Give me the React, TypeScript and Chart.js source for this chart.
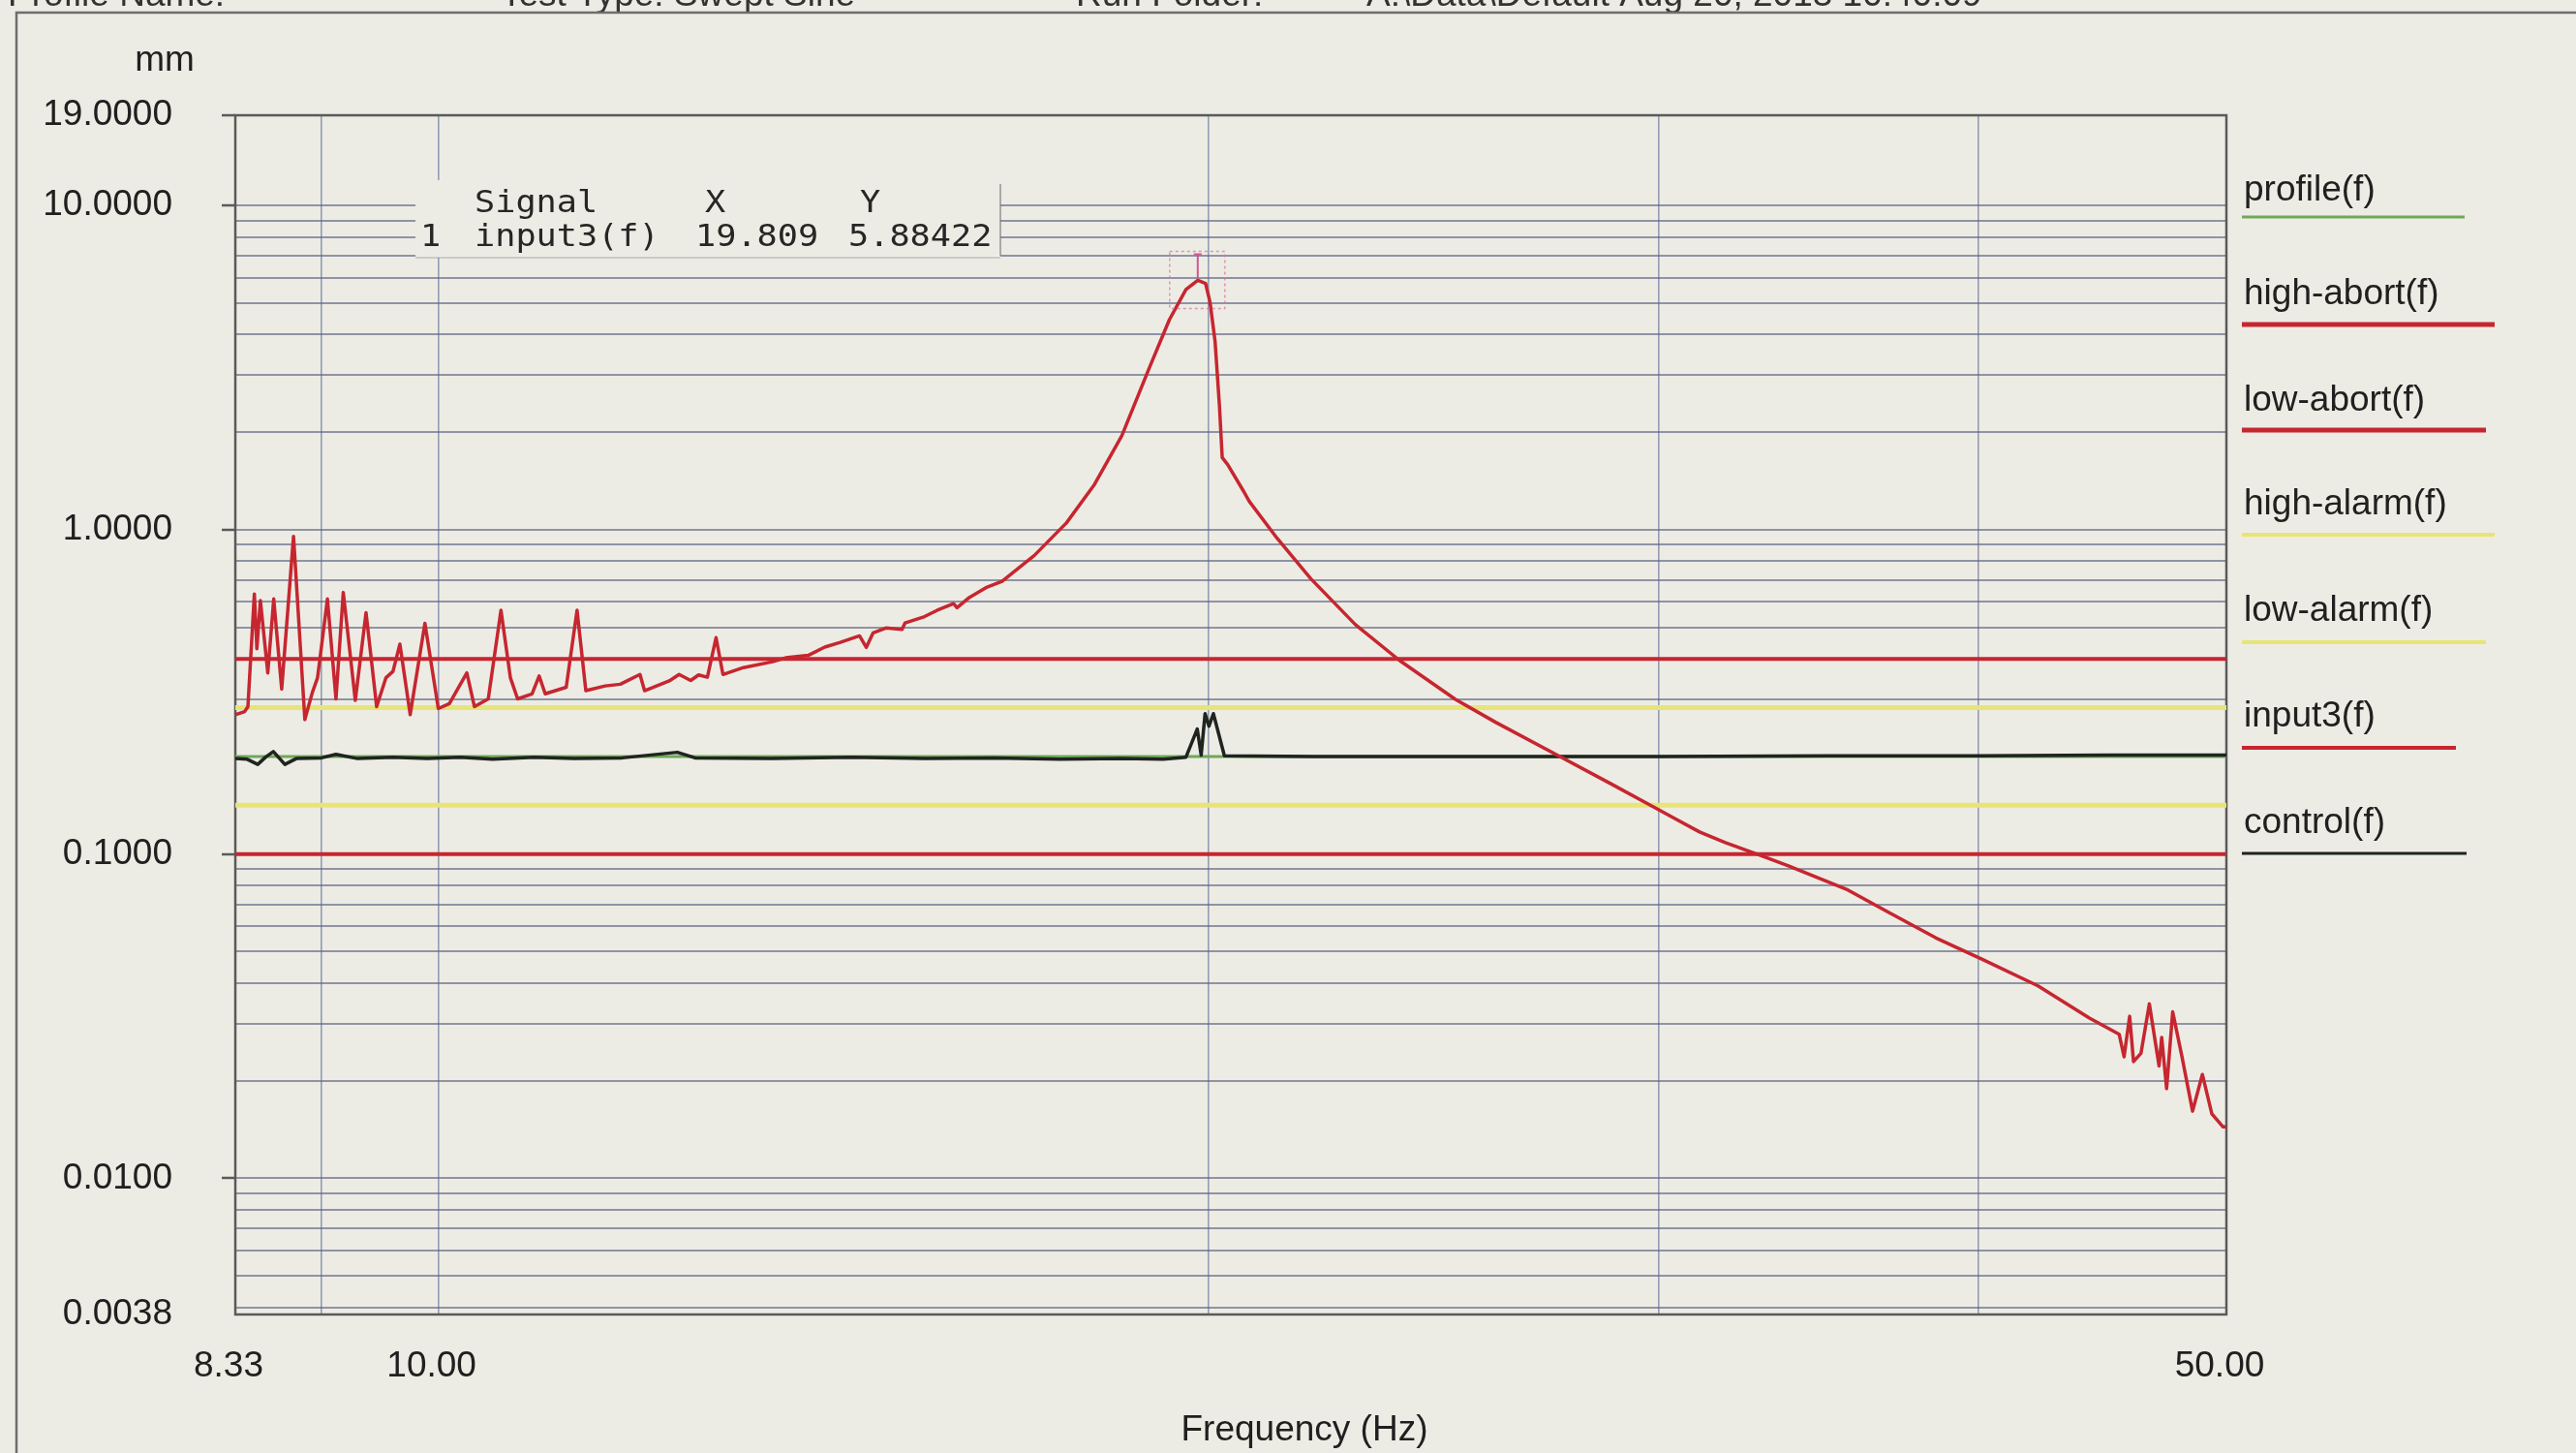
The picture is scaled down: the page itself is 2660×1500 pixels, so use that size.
import React, { useEffect, useRef } from "react";
import { Chart, registerables } from "chart.js";
Chart.register(...registerables);

const W = 2660;
const H = 1500;
const PAPER = "#edece4";
const INK = "#202020";
const FONT = "'Liberation Sans', Arial, sans-serif";

// ---------- data ----------
const FREQ_RANGE = [8.33, 50];
const PROFILE_MM = [0.2, 0.2];
const HIGH_ABORT_MM = [0.4, 0.4];
const LOW_ABORT_MM = [0.1, 0.1];
const HIGH_ALARM_MM = [0.2828, 0.2828];
const LOW_ALARM_MM = [0.1414, 0.1414];

const INPUT3_FREQ = [
  8.33, 8.4, 8.425, 8.474, 8.493, 8.52, 8.577, 8.623, 8.685, 8.778, 8.868, 8.928, 8.97,
  9.05, 9.12, 9.18, 9.28, 9.37, 9.46, 9.54, 9.6, 9.66, 9.75, 9.88, 10.0, 10.1, 10.26,
  10.33, 10.46, 10.58, 10.67, 10.74, 10.88, 10.95, 11.01, 11.22, 11.33, 11.42, 11.62,
  11.78, 11.99, 12.04, 12.31, 12.42, 12.55, 12.64, 12.74, 12.84, 12.92, 13.16, 13.51,
  13.67, 13.95, 14.16, 14.36, 14.61, 14.7, 14.79, 14.96, 15.18, 15.22, 15.49, 15.67,
  15.9, 15.95, 16.13, 16.37, 16.61, 17.1, 17.6, 18.05, 18.5, 18.97, 19.31, 19.6, 19.809,
  19.95, 20.03, 20.12, 20.2, 20.25, 20.35, 20.65, 20.75, 21.28, 21.93, 22.83, 23.76, 24.98,
  25.9, 27.41, 28.72, 29.7, 30.47, 31.12, 31.85, 32.82, 33.71, 35.56, 36.9, 38.5, 40.1, 42.2,
  44.2, 45.4, 45.6, 45.83, 45.99, 46.3, 46.65, 47.06, 47.17, 47.38, 47.64, 48.04, 48.5,
  48.93, 49.35, 49.85, 50.0,
];
const INPUT3_MM = [
  0.269, 0.275, 0.285, 0.634, 0.43, 0.605, 0.362, 0.612, 0.323, 0.955, 0.26, 0.315, 0.35,
  0.612, 0.301, 0.641, 0.298, 0.555, 0.285, 0.35, 0.366, 0.444, 0.269, 0.515, 0.281, 0.291,
  0.362, 0.285, 0.301, 0.565, 0.35, 0.301, 0.312, 0.354, 0.312, 0.327, 0.565, 0.319, 0.33,
  0.334, 0.358, 0.319, 0.342, 0.358, 0.343, 0.357, 0.351, 0.465, 0.358, 0.376, 0.392,
  0.403, 0.41, 0.435, 0.45, 0.471, 0.434, 0.481, 0.498, 0.493, 0.516, 0.54, 0.565,
  0.592, 0.575, 0.619, 0.663, 0.694, 0.834, 1.05, 1.38, 1.95, 3.18, 4.45, 5.51, 5.88422,
  5.75, 5.03, 3.82, 2.41, 1.67, 1.59, 1.31, 1.224, 0.94, 0.707, 0.51, 0.395, 0.3,
  0.255, 0.201, 0.165, 0.143, 0.128, 0.117, 0.1085, 0.0995, 0.092, 0.0775, 0.066, 0.0551, 0.0475, 0.0392,
  0.0312, 0.0278, 0.0237, 0.0316, 0.0229, 0.0243, 0.0345, 0.0222, 0.0272, 0.0189, 0.0326, 0.0237, 0.0161,
  0.0209, 0.0158, 0.0144, 0.0144,
];

const CONTROL_FREQ = [
  8.33, 8.42, 8.5, 8.56, 8.62, 8.71, 8.8, 9.0, 9.12, 9.3, 9.6, 9.9, 10.2, 10.5, 10.9, 11.3,
  11.8, 12.4, 12.6, 13.5, 14.5, 15.5, 16.5, 17.5, 18.5, 19.2, 19.6, 19.8, 19.87, 19.94,
  20.01, 20.09, 20.29, 22, 25, 30, 35, 40, 45, 50,
];
const CONTROL_MM = [
  0.197, 0.196, 0.189, 0.199, 0.207, 0.189, 0.197, 0.198, 0.203, 0.197, 0.199, 0.197, 0.199,
  0.196, 0.199, 0.197, 0.198, 0.206, 0.198, 0.197, 0.199, 0.197, 0.198, 0.196, 0.197, 0.196,
  0.199, 0.243, 0.202, 0.271, 0.248, 0.271, 0.201, 0.2, 0.2, 0.2, 0.201, 0.201, 0.202, 0.202,
];

const X_GRID = [8.33, 9, 10, 20, 30, 40, 50];
const X_LABELED = [8.33, 10, 50];
const Y_GRID = [
  0.0038, 0.004, 0.005, 0.006, 0.007, 0.008, 0.009,
  0.01, 0.02, 0.03, 0.04, 0.05, 0.06, 0.07, 0.08, 0.09,
  0.1, 0.2, 0.3, 0.4, 0.5, 0.6, 0.7, 0.8, 0.9,
  1, 2, 3, 4, 5, 6, 7, 8, 9,
  10, 19,
];
const Y_LABELED = [0.0038, 0.01, 0.1, 1, 10, 19];

const READOUT_SIGNAL = "input3(f)";
const READOUT_X = 19.809;
const READOUT_Y = 5.88422;

const HEADER_TEXTS = ["Profile Name:", "Test Type: Swept Sine", "Run Folder:", "A:\\Data\\Default Aug 20, 2013 10:40:09"];

// ---------- helpers ----------
const same = (a: number, b: number) => Math.abs(a - b) / Math.abs(b) < 1e-6;
const isIn = (v: number, list: number[]) => list.some((l) => same(v, l));
const pts = (xs: number[], ys: number[]) => xs.map((x, i) => ({ x, y: ys[i] }));

const RED = "rgb(198,38,48)";
const YELLOW = "rgb(232,228,118)";
const GREEN = "rgb(110,168,88)";
const BLACK = "#1f2420";

const LEGEND_Y = [197, 304, 414, 521, 631, 740, 850];
const LEGEND_LINE_Y = [224, 335, 444, 552, 663, 772, 881];
const LEGEND_LINE_END = [2545, 2576, 2567, 2576, 2567, 2536, 2547];
const LEGEND_LINE_W = [3, 5, 5, 4, 4, 4, 3];

const decor = {
  id: "decor",
  beforeDraw(chart: any) {
    const ctx = chart.ctx;
    ctx.save();
    ctx.fillStyle = PAPER;
    ctx.fillRect(0, 0, W, H);
    ctx.restore();
  },
  beforeDatasetsDraw(chart: any) {
    const ctx = chart.ctx;
    const a = chart.chartArea;
    ctx.save();
    // readout box
    ctx.fillStyle = PAPER;
    ctx.fillRect(429, 186, 604, 80);
    ctx.strokeStyle = "rgba(110,110,120,0.7)";
    ctx.lineWidth = 1.5;
    ctx.beginPath();
    ctx.moveTo(1033, 190);
    ctx.lineTo(1033, 264);
    ctx.stroke();
    ctx.strokeStyle = "rgba(140,140,150,0.45)";
    ctx.beginPath();
    ctx.moveTo(429, 266);
    ctx.lineTo(1033, 266);
    ctx.stroke();
    // plot frame
    ctx.strokeStyle = "#5a5a5a";
    ctx.lineWidth = 2.5;
    ctx.strokeRect(a.left, a.top, a.right - a.left, a.bottom - a.top);
    ctx.restore();
  },
  afterDatasetsDraw(chart: any) {
    const ctx = chart.ctx;
    const px = chart.scales.x.getPixelForValue(READOUT_X);
    const py = chart.scales.y.getPixelForValue(READOUT_Y);
    ctx.save();
    ctx.strokeStyle = "rgba(215,120,165,0.75)";
    ctx.lineWidth = 1.5;
    ctx.setLineDash([3, 3]);
    ctx.strokeRect(px - 29, py - 30, 57, 59);
    ctx.setLineDash([]);
    ctx.strokeStyle = "rgba(205,80,140,0.95)";
    ctx.lineWidth = 2;
    ctx.beginPath();
    ctx.moveTo(px, py - 2);
    ctx.lineTo(px, py - 27);
    ctx.moveTo(px - 4, py - 27);
    ctx.lineTo(px + 4, py - 27);
    ctx.stroke();
    ctx.restore();
  },
  afterDraw(chart: any) {
    const ctx = chart.ctx;
    ctx.save();
    // clipped header
    ctx.fillStyle = "#333";
    ctx.font = `37px ${FONT}`;
    ctx.textBaseline = "alphabetic";
    ctx.textAlign = "left";
    const hx = [8, 517, 1111, 1411];
    HEADER_TEXTS.forEach((t, i) => ctx.fillText(t, hx[i], 6));
    // page frame
    ctx.strokeStyle = "#6e6e6e";
    ctx.lineWidth = 2.5;
    ctx.beginPath();
    ctx.moveTo(17, H);
    ctx.lineTo(17, 13);
    ctx.lineTo(W, 13);
    ctx.stroke();
    // unit label and axis title
    ctx.fillStyle = INK;
    ctx.font = `37px ${FONT}`;
    ctx.textAlign = "center";
    ctx.textBaseline = "middle";
    ctx.fillText("mm", 170, 63);
    ctx.fillText("Frequency (Hz)", 1347, 1477);
    // legend
    ctx.textAlign = "left";
    chart.data.datasets.forEach((ds: any, i: number) => {
      ctx.fillStyle = INK;
      ctx.font = `37px ${FONT}`;
      ctx.fillText(ds.label, 2317, LEGEND_Y[i]);
      ctx.strokeStyle = ds.borderColor;
      ctx.lineWidth = LEGEND_LINE_W[i];
      ctx.beginPath();
      ctx.moveTo(2315, LEGEND_LINE_Y[i]);
      ctx.lineTo(LEGEND_LINE_END[i], LEGEND_LINE_Y[i]);
      ctx.stroke();
    });
    // readout text
    ctx.fillStyle = "#262626";
    ctx.font = `32px 'DejaVu Sans Mono', monospace`;
    ctx.textBaseline = "alphabetic";
    const drawMono = (t: string, x: number, y: number) => {
      ctx.save();
      ctx.translate(x, y);
      ctx.scale(1.1, 1);
      ctx.fillText(t, 0, 0);
      ctx.restore();
    };
    drawMono("Signal", 490, 219);
    drawMono("X", 728, 219);
    drawMono("Y", 888, 219);
    drawMono("1", 434, 254);
    drawMono(READOUT_SIGNAL, 490, 254);
    drawMono(READOUT_X.toFixed(3), 718, 254);
    drawMono(String(READOUT_Y), 876, 254);
    ctx.restore();
  },
};

export default function App() {
  const ref = useRef<HTMLCanvasElement>(null);
  useEffect(() => {
    document.body.style.margin = "0";
    document.body.style.background = PAPER;
    const gridY = "rgba(92,100,130,0.65)";
    const gridX = "rgba(92,106,150,0.62)";
    const chart = new Chart(ref.current as HTMLCanvasElement, {
      type: "line",
      data: {
        datasets: [
          { label: "profile(f)", data: pts(FREQ_RANGE, PROFILE_MM), borderColor: GREEN, borderWidth: 3, order: 4 },
          { label: "high-abort(f)", data: pts(FREQ_RANGE, HIGH_ABORT_MM), borderColor: RED, borderWidth: 4, order: 5 },
          { label: "low-abort(f)", data: pts(FREQ_RANGE, LOW_ABORT_MM), borderColor: RED, borderWidth: 4, order: 5 },
          { label: "high-alarm(f)", data: pts(FREQ_RANGE, HIGH_ALARM_MM), borderColor: YELLOW, borderWidth: 5, order: 6 },
          { label: "low-alarm(f)", data: pts(FREQ_RANGE, LOW_ALARM_MM), borderColor: YELLOW, borderWidth: 5, order: 6 },
          { label: "input3(f)", data: pts(INPUT3_FREQ, INPUT3_MM), borderColor: RED, borderWidth: 3.5, order: 0 },
          { label: "control(f)", data: pts(CONTROL_FREQ, CONTROL_MM), borderColor: BLACK, borderWidth: 3.5, order: 3 },
        ] as any,
      },
      options: {
        responsive: false,
        animation: false,
        devicePixelRatio: 1,
        parsing: false as any,
        normalized: true,
        elements: { point: { radius: 0 }, line: { tension: 0, borderJoinStyle: "round", borderCapStyle: "butt" } },
        layout: { padding: { top: 119, right: 361, left: 0, bottom: 0 } },
        plugins: { legend: { display: false }, tooltip: { enabled: false }, title: { display: false } },
        scales: {
          x: {
            type: "logarithmic",
            min: FREQ_RANGE[0],
            max: FREQ_RANGE[1],
            afterBuildTicks: (s: any) => {
              s.ticks = X_GRID.map((v) => ({ value: v }));
            },
            afterFit: (s: any) => {
              s.height = H - 1357;
            },
            ticks: {
              autoSkip: false,
              maxRotation: 0,
              padding: 32,
              labelOffset: -7,
              color: INK,
              font: { family: FONT, size: 37 },
              callback: (v: any) => (isIn(Number(v), X_LABELED) ? Number(v).toFixed(2) : ""),
            },
            grid: {
              drawTicks: false,
              lineWidth: 1.6,
              color: (c: any) => (c.tick && (same(c.tick.value, 8.33) || same(c.tick.value, 50)) ? "rgba(0,0,0,0)" : gridX),
            },
            border: { display: false },
          },
          y: {
            type: "logarithmic",
            min: 0.0038,
            max: 19,
            afterBuildTicks: (s: any) => {
              s.ticks = Y_GRID.map((v) => ({ value: v }));
            },
            afterFit: (s: any) => {
              s.width = 243;
            },
            ticks: {
              autoSkip: false,
              padding: 51,
              color: INK,
              font: { family: FONT, size: 37 },
              callback: (v: any) => (isIn(Number(v), Y_LABELED) ? Number(v).toFixed(4) : ""),
            },
            grid: {
              drawTicks: true,
              tickLength: 14,
              tickWidth: 2.5,
              lineWidth: 2,
              color: (c: any) => (c.tick && (same(c.tick.value, 0.0038) || same(c.tick.value, 19)) ? "rgba(0,0,0,0)" : gridY),
              tickColor: (c: any) =>
                c.tick && isIn(c.tick.value, Y_LABELED) && !same(c.tick.value, 0.0038) ? "#5a5a5a" : "rgba(0,0,0,0)",
            },
            border: { display: false },
          },
        },
      },
      plugins: [decor],
    } as any);
    return () => chart.destroy();
  }, []);
  return (
    <div style={{ width: W, height: H, background: PAPER }}>
      <canvas ref={ref} width={W} height={H} style={{ display: "block", width: W, height: H }} />
    </div>
  );
}
